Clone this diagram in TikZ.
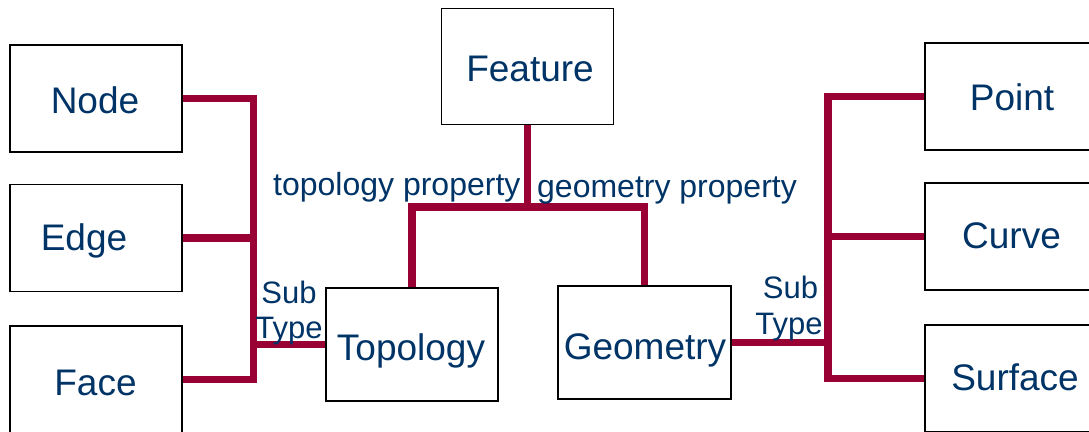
\documentclass[tikz,border=0pt]{standalone}
\usepackage{fontspec}
\setmainfont{Liberation Sans}
\definecolor{navy}{RGB}{0,51,102}
\definecolor{crimson}{RGB}{153,0,51}
\begin{document}
\begin{tikzpicture}[x=1pt,y=-1pt,
  box/.style={draw=black,line width=1.3pt,fill=white,inner sep=0pt,minimum width=172pt,minimum height=107pt},
  big/.style={text=navy,inner sep=0pt,anchor=base,font=\fontsize{37}{41}\selectfont},
  small/.style={text=navy,inner sep=0pt,anchor=base,font=\fontsize{32}{35}\selectfont},
  subtype/.style={text=navy,inner sep=0pt,anchor=base,font=\fontsize{31}{35}\selectfont},
  conn/.style={draw=crimson,line width=7.5pt}]
\useasboundingbox (0,0) rectangle (1089,431);
\clip (0,0) rectangle (1089,431);
\coordinate (lb) at (253.5,0);
\coordinate (rb) at (828,0);
\coordinate (jt) at (527.5,207);
% boxes
\node[box] (nodebox) at (96,98.5) {};
\node[box] (edgebox) at (96,238) {};
\node[box] (facebox) at (96,379.5) {};
\node[box,minimum height=116pt] (feat) at (527.5,66.5) {};
\node[box,minimum height=113pt] (topo) at (412,344.5) {};
\node[box,minimum width=173pt,minimum height=113pt] (geom) at (644.5,342.5) {};
\node[box,minimum width=174pt] (pointbox) at (1012,96.5) {};
\node[box,minimum width=174pt] (curvebox) at (1012,236.5) {};
\node[box,minimum width=174pt] (surfbox) at (1012,378.5) {};
% connectors
\draw[conn] (feat.south) -- (jt);
\draw[conn] (topo.north) |- (jt) -| (geom.north);
\draw[conn] (nodebox.east) -| (lb |- facebox.east) -- (facebox.east);
\draw[conn] (edgebox.east) -- (edgebox.east -| lb);
\draw[conn] (topo.west) -- (topo.west -| lb);
\draw[conn] (pointbox.west) -| (rb |- surfbox.west) -- (surfbox.west);
\draw[conn] (curvebox.west) -- (curvebox.west -| rb);
\draw[conn] (geom.east) -- (geom.east -| rb);
% texts
\node[big] (tnode) at (95,113) {Node};
\node[big] (tedge) at (84,250) {Edge};
\node[big] (tface) at (95.5,395) {Face};
\node[big] (tfeat) at (530,81) {Feature};
\node[big] (ttopo) at (411,360) {Topology};
\node[big] (tgeom) at (645,359) {Geometry};
\node[big] (tpoint) at (1012,110) {Point};
\node[big] (tcurve) at (1011.5,248) {Curve};
\node[big] (tsurf) at (1015,390) {Surface};
\node[small,anchor=base west] (tprop) at (273,195) {topology property};
\node[small,anchor=base west] (gprop) at (537,197) {geometry property};
\node[subtype] (lsub) at (289,303) {Sub};
\node[subtype] (ltype) at (289,338) {Type};
\node[subtype] (rsub) at (790.5,298) {Sub};
\node[subtype] (rtype) at (789,334) {Type};
\end{tikzpicture}
\end{document}
